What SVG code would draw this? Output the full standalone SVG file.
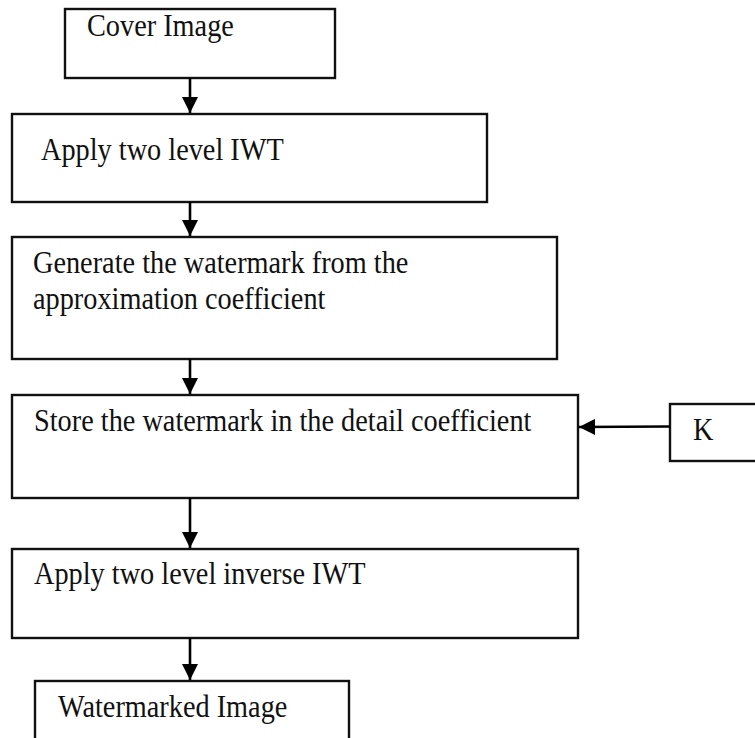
<svg xmlns="http://www.w3.org/2000/svg" width="755" height="738" viewBox="0 0 755 738">
<style>
.box{fill:#fff;stroke:#111;stroke-width:2.4}
.lbl{font-family:"Liberation Serif","Times New Roman",serif;font-size:28.3px;fill:#111}
.conn{stroke:#000;stroke-width:2.6;fill:none}
</style>
<defs>
<marker id="ah" markerUnits="userSpaceOnUse" markerWidth="16" markerHeight="16" viewBox="0 0 16 16" refX="16" refY="8" orient="auto">
<path d="M0,0 L16,8 L0,16 Z" fill="#000"/>
</marker>
</defs>
<rect width="755" height="738" fill="#fff"/>
<g id="n1"><rect class="box" x="65" y="9" width="270" height="69"/><text class="lbl" transform="translate(87,36) scale(1,1.08)">Cover Image</text></g>
<g id="n2"><rect class="box" x="12" y="114" width="475" height="88"/><text class="lbl" transform="translate(41,160) scale(1,1.08)">Apply two level IWT</text></g>
<g id="n3"><rect class="box" x="12" y="237" width="545" height="122"/><text class="lbl" transform="translate(33,273) scale(1,1.08)">Generate the watermark from the</text><text class="lbl" transform="translate(33,309) scale(1,1.08)">approximation coefficient</text></g>
<g id="n4"><rect class="box" x="12" y="395" width="566" height="103"/><text class="lbl" transform="translate(34,431) scale(1,1.08)">Store the watermark in the detail coefficient</text></g>
<g id="nK"><rect class="box" x="670" y="404" width="100" height="57"/><text class="lbl" transform="translate(693,440) scale(1,1.08)">K</text></g>
<g id="n5"><rect class="box" x="12" y="549" width="566" height="89"/><text class="lbl" transform="translate(34,584) scale(1,1.08)">Apply two level inverse IWT</text></g>
<g id="n6"><rect class="box" x="35" y="681" width="314" height="70"/><text class="lbl" transform="translate(58,717) scale(1,1.08)">Watermarked Image</text></g>
<g id="connectors">
<line class="conn" x1="190" y1="78" x2="190" y2="113" marker-end="url(#ah)"/>
<line class="conn" x1="190" y1="202" x2="190" y2="236" marker-end="url(#ah)"/>
<line class="conn" x1="190" y1="359" x2="190" y2="394" marker-end="url(#ah)"/>
<line class="conn" x1="190" y1="498" x2="190" y2="548" marker-end="url(#ah)"/>
<line class="conn" x1="190" y1="638" x2="190" y2="680" marker-end="url(#ah)"/>
<line class="conn" x1="670" y1="426.5" x2="579" y2="427" marker-end="url(#ah)"/>
</g>
</svg>
